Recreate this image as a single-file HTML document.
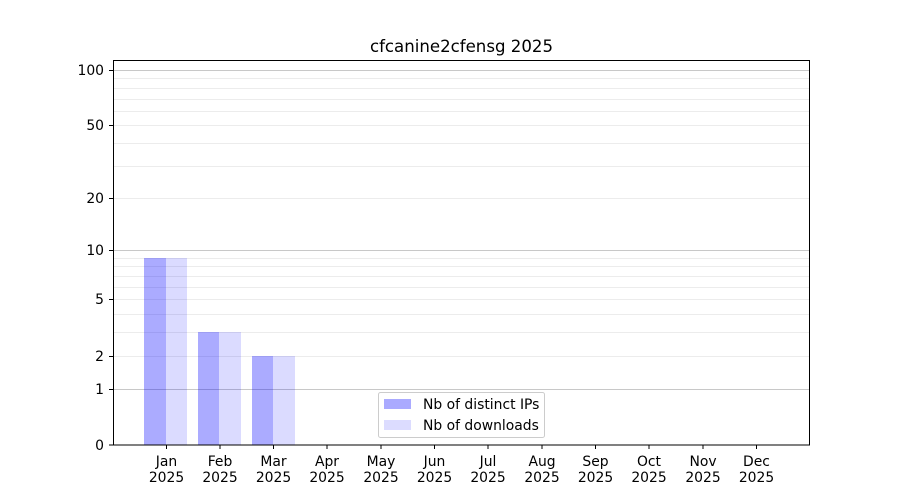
<!DOCTYPE html>
<html><head><meta charset="utf-8"><style>body{margin:0;background:#fff}svg{display:block}text{font-family:"DejaVu Sans","Liberation Sans",sans-serif;font-size:13.9px;fill:#000}</style></head>
<body>
<svg width="900" height="500" viewBox="0 0 900 500">
<rect width="900" height="500" fill="#fff"/>
<g stroke="#ececec" stroke-width="1">
<line x1="113" x2="810" y1="78.5" y2="78.5"/><line x1="113" x2="810" y1="88.5" y2="88.5"/><line x1="113" x2="810" y1="99.5" y2="99.5"/><line x1="113" x2="810" y1="111.5" y2="111.5"/><line x1="113" x2="810" y1="125.5" y2="125.5"/><line x1="113" x2="810" y1="143.5" y2="143.5"/><line x1="113" x2="810" y1="166.5" y2="166.5"/><line x1="113" x2="810" y1="198.5" y2="198.5"/><line x1="113" x2="810" y1="258.5" y2="258.5"/><line x1="113" x2="810" y1="266.5" y2="266.5"/><line x1="113" x2="810" y1="276.5" y2="276.5"/><line x1="113" x2="810" y1="287.5" y2="287.5"/><line x1="113" x2="810" y1="299.5" y2="299.5"/><line x1="113" x2="810" y1="314.5" y2="314.5"/><line x1="113" x2="810" y1="332.5" y2="332.5"/><line x1="113" x2="810" y1="356.5" y2="356.5"/>
</g>
<g stroke="#c8c8c8" stroke-width="1"><line x1="113" x2="810" y1="70.5" y2="70.5"/><line x1="113" x2="810" y1="250.5" y2="250.5"/><line x1="113" x2="810" y1="389.5" y2="389.5"/></g>
<g fill="rgb(0,0,255)" fill-opacity="0.33"><rect x="144" y="258" width="22" height="187"/><rect x="198" y="332" width="21" height="113"/><rect x="252" y="356" width="21" height="89"/></g>
<g fill="rgb(0,0,255)" fill-opacity="0.14"><rect x="166" y="258" width="21" height="187"/><rect x="219" y="332" width="22" height="113"/><rect x="273" y="356" width="22" height="89"/></g>
<rect x="113.5" y="60.5" width="696" height="384.5" fill="none" stroke="#000" stroke-width="1"/>
<g stroke="#000"><line x1="109" x2="113" y1="70.5" y2="70.5"/><line x1="109" x2="113" y1="125.5" y2="125.5"/><line x1="109" x2="113" y1="198.5" y2="198.5"/><line x1="109" x2="113" y1="250.5" y2="250.5"/><line x1="109" x2="113" y1="299.5" y2="299.5"/><line x1="109" x2="113" y1="356.5" y2="356.5"/><line x1="109" x2="113" y1="389.5" y2="389.5"/><line x1="109" x2="113" y1="445" y2="445"/></g>
<g text-anchor="end"><text x="104" y="75">100</text><text x="104" y="130">50</text><text x="104" y="203">20</text><text x="104" y="255">10</text><text x="104" y="304">5</text><text x="104" y="361">2</text><text x="104" y="394">1</text><text x="104" y="450">0</text></g>
<g stroke="#000">
<line x1="166.5" x2="166.5" y1="445" y2="449"/><line x1="220" x2="220" y1="445" y2="449"/><line x1="273.5" x2="273.5" y1="445" y2="449"/><line x1="327" x2="327" y1="445" y2="449"/><line x1="381" x2="381" y1="445" y2="449"/><line x1="434.5" x2="434.5" y1="445" y2="449"/><line x1="488" x2="488" y1="445" y2="449"/><line x1="542" x2="542" y1="445" y2="449"/><line x1="595.5" x2="595.5" y1="445" y2="449"/><line x1="649" x2="649" y1="445" y2="449"/><line x1="703" x2="703" y1="445" y2="449"/><line x1="756.5" x2="756.5" y1="445" y2="449"/></g>
<g text-anchor="middle">
<text x="166.5" y="466">Jan</text><text x="166.5" y="482">2025</text>
<text x="220" y="466">Feb</text><text x="220" y="482">2025</text>
<text x="273.5" y="466">Mar</text><text x="273.5" y="482">2025</text>
<text x="327" y="466">Apr</text><text x="327" y="482">2025</text>
<text x="381" y="466">May</text><text x="381" y="482">2025</text>
<text x="434.5" y="466">Jun</text><text x="434.5" y="482">2025</text>
<text x="488" y="466">Jul</text><text x="488" y="482">2025</text>
<text x="542" y="466">Aug</text><text x="542" y="482">2025</text>
<text x="595.5" y="466">Sep</text><text x="595.5" y="482">2025</text>
<text x="649" y="466">Oct</text><text x="649" y="482">2025</text>
<text x="703" y="466">Nov</text><text x="703" y="482">2025</text>
<text x="756.5" y="466">Dec</text><text x="756.5" y="482">2025</text>
<text x="461.5" y="52" style="font-size:16.6px">cfcanine2cfensg 2025</text>
</g>
<rect x="378.5" y="392.5" width="166" height="45" rx="2" fill="#fff" fill-opacity="0.8" stroke="#ccc"/>
<rect x="384" y="399" width="27" height="10" fill="#aaaaff"/>
<rect x="384" y="420" width="27" height="10" fill="#dcdcff"/>
<text x="423" y="409">Nb of distinct IPs</text>
<text x="423" y="430">Nb of downloads</text>
</svg>
</body></html>
